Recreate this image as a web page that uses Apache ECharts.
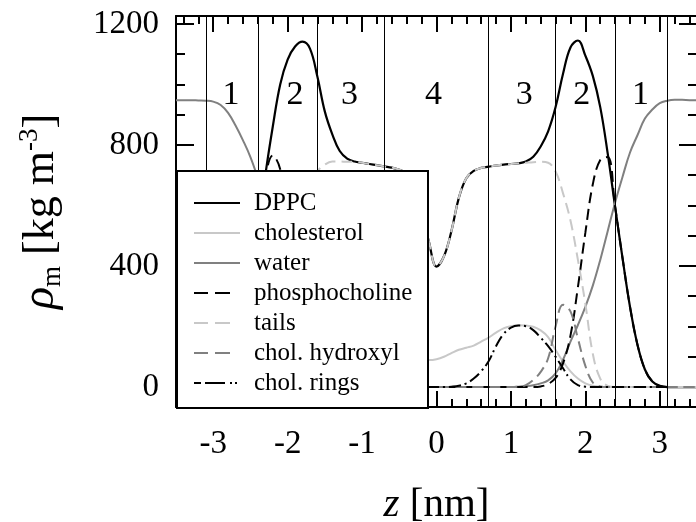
<!DOCTYPE html>
<html>
<head>
<meta charset="utf-8">
<script src="https://cdn.jsdelivr.net/npm/echarts@6/dist/echarts.min.js"></script>
<style>html,body{margin:0;padding:0;background:#fff}#c{width:696px;height:522px}</style>
</head>
<body>
<div id="c"></div>
<script>
// z positions [nm]
var zValues = [-3.5,-3.4,-3.3,-3.2,-3.1,-3.0,-2.9,-2.8,-2.7,-2.6,-2.5,-2.4,-2.3,-2.2,-2.1,-2.0,-1.9,-1.8,-1.7,-1.6,-1.5,-1.4,-1.3,-1.2,-1.1,-1.0,-0.9,-0.8,-0.7,-0.6,-0.5,-0.4,-0.3,-0.2,-0.1,0.0,0.1,0.2,0.3,0.4,0.5,0.6,0.7,0.8,0.9,1.0,1.1,1.2,1.3,1.4,1.5,1.6,1.7,1.8,1.9,2.0,2.1,2.2,2.3,2.4,2.5,2.6,2.7,2.8,2.9,3.0,3.1,3.2,3.3,3.4,3.5];
// mass densities [kg m^-3]
var dppc = [0,0,0,0,0,1,8,30,90,190,330,510,700,860,1000,1082,1125,1141,1118,1025,910,835,780,755,745,741,737,733,729,725,718,705,660,580,478,398,432,515,625,690,714,724,728,732,735,737,739,745,761,795,845,925,1035,1122,1145,1095,1028,925,772,595,425,265,140,58,18,4,0,0,0,0,0];
var cholesterol = [0,0,0,0,0,0,0,0,0,0,0,0,0,1,4,12,28,52,84,122,165,187,199,203,204,201,194,180,163,150,137,130,123,112,89,92,100,112,123,130,137,150,163,180,194,201,204,203,199,187,165,122,84,52,28,12,4,1,0,0,0,0,0,0,0,0,0,0,0,0,0];
var water = [948,948,948,947,946,943,932,906,864,815,760,690,610,525,440,360,285,215,150,95,50,24,11,5,2,1,0,0,0,0,0,0,0,0,0,0,0,0,0,0,0,0,0,0,0,0,1,3,6,12,22,45,90,150,205,265,335,420,515,610,695,775,832,887,917,938,946,949,949,948,948];
var phosphocholine = [0,0,0,0,0,1,8,30,90,190,330,505,690,765,720,570,370,190,82,32,10,2,0,0,0,0,0,0,0,0,0,0,0,0,0,0,0,0,0,0,0,0,0,0,0,0,0,0,0,2,10,30,78,170,330,510,670,750,760,595,425,265,140,58,18,4,0,0,0,0,0];
var tails = [0,0,0,0,0,0,0,0,0,0,0,0,4,28,110,275,420,550,645,712,735,745,745,744,745,741,737,733,729,725,718,705,660,580,478,398,432,515,625,690,714,724,728,732,735,737,739,741,743,744,741,712,640,550,420,275,110,28,4,0,0,0,0,0,0,0,0,0,0,0,0];
var cholHydroxyl = [0,0,0,0,0,0,0,0,0,0,0,0,0,2,15,70,160,250,272,200,95,50,23,6,1,0,0,0,0,0,0,0,0,0,0,0,0,0,0,0,0,0,0,0,0,0,1,6,23,50,95,200,272,250,160,70,15,2,0,0,0,0,0,0,0,0,0,0,0,0,0];
var cholRings = [0,0,0,0,0,0,0,0,0,0,0,0,0,0,0,1,6,25,62,100,135,163,188,201,203,196,175,135,85,52,28,12,4,1,0,0,0,1,4,12,28,52,85,135,175,196,203,201,188,163,135,100,62,25,6,1,0,0,0,0,0,0,0,0,0,0,0];

var seriesNames = ['DPPC','cholesterol','water','phosphocholine','tails','chol. hydroxyl','chol. rings'];
// region boundaries and labels
var boundaries = [-3.1,-2.4,-1.6,-0.7,0.7,1.6,2.4,3.1];
var regionZ = [-2.76,-1.9,-1.17,-0.04,1.18,1.95,2.74];
var regionText = ['1','2','3','4','3','2','1'];
var regionY = 965;
// ticks
var xMajor = [-3,-2,-1,0,1,2,3];
var xMinor = [-3.4,-3.2,-3.0,-2.8,-2.6,-2.4,-2.2,-2.0,-1.8,-1.6,-1.4,-1.2,-1.0,-0.8,-0.6,-0.4,-0.2,0,0.2,0.4,0.6,0.8,1.0,1.2,1.4,1.6,1.8,2.0,2.2,2.4,2.6,2.8,3.0,3.2,3.4];
var yMajor = [0,400,800,1200];
var yMinor = [0,100,200,300,400,500,600,700,800,900,1000,1100,1200];

var FONT = 'Liberation Serif';
function pts(arr){ return zValues.map(function(z,i){ return [z, arr[i]]; }); }
function plain(v){ return String(v); }

var XMIN=-3.5, XMAX=3.5, YMIN=-66, YMAX=1226;
function xAx(pos, ticks, len, showLine, showLabel, extra){
  var a = {type:'value', min:XMIN, max:XMAX, position:pos,
    axisLine:{show:showLine, onZero:false, lineStyle:{color:'#000', width:2}},
    axisTick:{show:true, inside:true, length:len, customValues:ticks, lineStyle:{color:'#000', width:2}},
    axisLabel:{show:showLabel, customValues:ticks, formatter:plain, fontFamily:FONT, fontSize:33, color:'#000', margin:21},
    splitLine:{show:false}};
  if (extra) for (var k in extra) a[k]=extra[k];
  return a;
}
function yAx(pos, ticks, len, showLine, showLabel, extra){
  var a = {type:'value', min:YMIN, max:YMAX, position:pos,
    axisLine:{show:showLine, onZero:false, lineStyle:{color:'#000', width:2}},
    axisTick:{show:true, inside:true, length:len, customValues:ticks, lineStyle:{color:'#000', width:2}},
    axisLabel:{show:showLabel, customValues:ticks, formatter:plain, fontFamily:FONT, fontSize:33, color:'#000', margin:17},
    splitLine:{show:false}};
  if (extra) for (var k in extra) a[k]=extra[k];
  return a;
}

var styles = [
  {color:'#000000', type:'solid', width:2.2},
  {color:'#c8c8c8', type:'solid', width:2},
  {color:'#808080', type:'solid', width:2},
  {color:'#000000', type:[11,6], width:2},
  {color:'#c8c8c8', type:[11,6], width:2},
  {color:'#808080', type:[11,6], width:2},
  {color:'#000000', type:[12,4,2,4], width:2}
];
var legendTypes = ['solid','solid','solid',[14,7,15,20],[14,7,15,20],[14,7,15,20],[7,4,20,5,2,3,2,10]];
var dataArrays = [dppc, cholesterol, water, phosphocholine, tails, cholHydroxyl, cholRings];

var series = dataArrays.map(function(arr, i){
  return {name:seriesNames[i], type:'line', xAxisIndex:0, yAxisIndex:0, symbol:'none', showSymbol:false,
    smooth:0.4, data:pts(arr), lineStyle:styles[i], itemStyle:{color:styles[i].color}, z:3, silent:true};
});
series[0].markLine = {silent:true, symbol:'none', animation:false, label:{show:false},
  lineStyle:{color:'#000', width:1, type:'solid'},
  data: boundaries.map(function(b){ return {xAxis:b}; })};
series.push({type:'scatter', name:'regions', xAxisIndex:0, yAxisIndex:0, symbolSize:0, itemStyle:{color:'#000', opacity:1},
  data: regionZ.map(function(z,i){ return {name:regionText[i], value:[z, regionY]}; }),
  label:{show:true, position:[0,0], align:'center', verticalAlign:'middle', formatter:function(p){return p.name;}, fontFamily:FONT, fontSize:34, color:'#000', opacity:1},
  emphasis:{disabled:true}, silent:true, z:4});

var chart = echarts.init(document.getElementById('c'), null, {renderer:'canvas'});
chart.setOption({
  animation:false,
  backgroundColor:'#fff',
  grid:{left:176, top:16, width:521, height:391, containLabel:false, outerBoundsMode:'none'},
  xAxis:[
    xAx('bottom', xMajor, 16, true, true, {name:'{i|z} [nm]', nameLocation:'middle', nameGap:78,
      nameTextStyle:{fontFamily:FONT, fontSize:41, color:'#000', rich:{i:{fontFamily:FONT, fontStyle:'italic', fontSize:41, color:'#000'}}}}),
    xAx('bottom', xMinor, 8, false, false),
    xAx('top', xMajor, 16, true, false),
    xAx('top', xMinor, 8, false, false)
  ],
  yAxis:[
    yAx('left', yMajor, 18, true, true, {name:'{i|ρ}{sub|m}{n| [kg m}{sup|-3}{n|]}', nameLocation:'middle', nameRotate:90, nameGap:110,
      nameTextStyle:{fontFamily:FONT, fontSize:44, color:'#000', rich:{
        i:{fontFamily:FONT, fontStyle:'italic', fontSize:46, color:'#000', lineHeight:50},
        n:{fontFamily:FONT, fontSize:44, color:'#000', lineHeight:50},
        sub:{fontFamily:FONT, fontSize:27, color:'#000', lineHeight:26, verticalAlign:'bottom'},
        sup:{fontFamily:FONT, fontSize:27, color:'#000', lineHeight:26, verticalAlign:'top'}
      }}}),
    yAx('left', yMinor, 9, false, false),
    yAx('right', yMajor, 18, true, false),
    yAx('right', yMinor, 9, false, false)
  ],
  legend:{orient:'vertical', left:193, top:188, itemWidth:46, itemHeight:30, itemGap:0, padding:0, z:60,
    itemStyle:{opacity:0},
    textStyle:{fontFamily:FONT, fontSize:25, color:'#000', lineHeight:30, padding:[0,0,0,9]},
    data: seriesNames.map(function(n,i){ return {name:n, lineStyle:{type:legendTypes[i]}}; })},
  graphic:[{type:'rect', z:50, shape:{x:177, y:171, width:251, height:237}, style:{fill:'#fff', stroke:'#000', lineWidth:2}}],
  series:series
});
</script>
</body>
</html>
